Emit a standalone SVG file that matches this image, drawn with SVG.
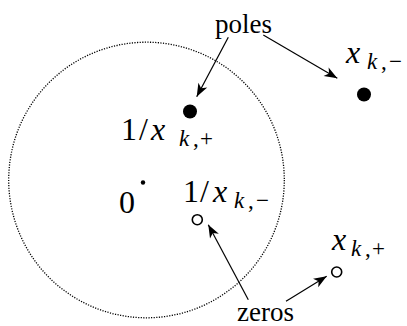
<svg xmlns="http://www.w3.org/2000/svg" width="407" height="326" viewBox="0 0 407 326">
<defs>
<style>
text{fill:#000;font-family:'Liberation Serif','Times New Roman','DejaVu Serif',serif}
.lbl{font-size:27px}
.m{font-size:32px}
.s{font-size:23px}
.i{font-style:italic}
.arrow{stroke:#000;stroke-width:1.2;fill:none;marker-end:url(#ah)}
.pole{fill:#000}
.zero{fill:#fff;stroke:#000;stroke-width:1.6}
</style>
<marker id="ah" viewBox="-14 -6 15 12" refX="0" refY="0" markerWidth="15" markerHeight="12" markerUnits="userSpaceOnUse" orient="auto">
<path d="M0,0 L-13,-5 L-9.5,0 L-13,5 Z" fill="#000"/>
</marker>
</defs>
<rect width="407" height="326" fill="#fff"/>
<g id="unit-circle">
<circle cx="146.5" cy="180" r="137.8" fill="none" stroke="#000" stroke-width="1.3" stroke-dasharray="1.2 1.4"/>
</g>
<g id="origin">
<circle cx="143" cy="182.5" r="2.2" fill="#000"/>
<text class="m" x="119" y="213">0</text>
</g>
<g id="pole-inner">
<circle class="pole" cx="190" cy="111.5" r="7"/>
<text class="m" x="121" y="140">1</text>
<text class="m" x="139" y="140">/</text>
<text class="m i" x="151" y="140">x</text>
<text class="s i" x="179" y="146">k</text>
<text class="s" x="193" y="146">,</text>
<text class="s" x="200" y="146">+</text>
</g>
<g id="pole-outer">
<circle class="pole" cx="364" cy="94.5" r="7"/>
<text class="m i" x="346" y="63">x</text>
<text class="s i" x="367" y="69">k</text>
<text class="s" x="381" y="69">,</text>
<text class="s" x="389" y="69">−</text>
</g>
<g id="zero-inner">
<circle class="zero" cx="197.3" cy="219.7" r="5"/>
<text class="m" x="183" y="202">1</text>
<text class="m" x="200" y="202">/</text>
<text class="m i" x="213" y="202">x</text>
<text class="s i" x="234" y="208">k</text>
<text class="s" x="248" y="208">,</text>
<text class="s" x="256" y="208">−</text>
</g>
<g id="zero-outer">
<circle class="zero" cx="336.7" cy="272" r="5"/>
<text class="m i" x="332" y="250">x</text>
<text class="s i" x="351" y="256">k</text>
<text class="s" x="365" y="256">,</text>
<text class="s" x="372" y="256">+</text>
</g>
<g id="poles-label">
<text class="lbl" x="215" y="33">poles</text>
</g>
<g id="zeros-label">
<text class="lbl" x="237" y="321">zeros</text>
</g>
<g id="connectors">
<line class="arrow" x1="228.3" y1="37.3" x2="196.7" y2="96.7"/>
<line class="arrow" x1="263.3" y1="35" x2="337.3" y2="78.3"/>
<line class="arrow" x1="248.3" y1="299.7" x2="208.3" y2="224.7"/>
<line class="arrow" x1="286" y1="301.3" x2="326.7" y2="276.3"/>
</g>
</svg>
